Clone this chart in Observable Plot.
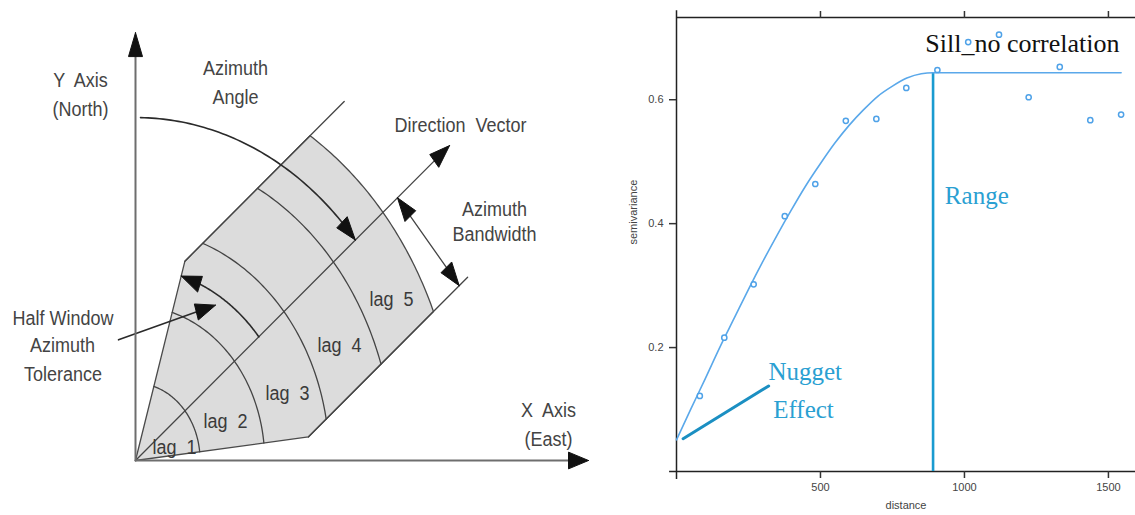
<!DOCTYPE html>
<html><head><meta charset="utf-8">
<script src="https://cdn.jsdelivr.net/npm/d3@7"></script>
<script src="https://cdn.jsdelivr.net/npm/@observablehq/plot@0.6"></script>
<style>
body{margin:0;background:#fff;width:1135px;height:515px;overflow:hidden;position:relative}
#left{position:absolute;left:0;top:0}
#right{position:absolute;left:600px;top:0}
</style></head><body>
<div id="left"></div><div id="right"></div>
<script>
// ---------- Left diagram: search parameters (diagram units) ----------
const azimuthDeg = 40;          // direction vector, degrees from East
const toleranceDeg = 33.5;      // half window azimuth tolerance
const bandwidth = 96;
const lagRadii = [64.6, 129.2, 193.8, 258.4, 323];
const lagNames = ["lag  1", "lag  2", "lag  3", "lag  4", "lag  5"];
const lagLabelU = [39, 90, 152, 204, 256];
const lagLabelV = [11, 33, 56.5, 96, 135];
const noteText = ["Y  Axis", "(North)", "Azimuth", "Angle", "Direction  Vector", "Azimuth", "Bandwidth",
                  "Half Window", "Azimuth", "Tolerance", "X  Axis", "(East)"];
const noteU = [-55, -55, 100, 100, 325, 359, 359, -72.5, -73, -72.5, 413, 413];
const noteV = [318, 294, 328.5, 304, 280, 210, 189, 119, 96, 72, 42, 17.6];
const axisTip = {x: 453, y: 358};
const directionLength = 410;
const bandLength = 353;
const azimuthArc = {radius: 287, startDeg: 89};
const toleranceArcRadius = 161;
const bandArrowAt = 342;
const pointerFrom = [-17, 101], pointerTo = [80, 130];

// ---------- Right chart: experimental variogram ----------
const distance = [81, 166, 268, 376, 482, 588, 694, 798, 906, 1013, 1120, 1223, 1331, 1437, 1544];
const semivariance = [0.122, 0.216, 0.302, 0.412, 0.464, 0.566, 0.569, 0.619, 0.648, 0.693, 0.705, 0.604, 0.653, 0.567, 0.576];
const modelDistance = [0, 50, 100, 150, 200, 250, 300, 350, 400, 450, 500, 550, 600, 650, 700, 750, 800, 850, 891, 1544];
const modelGamma = [0.051, 0.101, 0.150, 0.200, 0.247, 0.294, 0.339, 0.382, 0.423, 0.462, 0.497, 0.530, 0.559, 0.584, 0.606, 0.622, 0.635, 0.642, 0.6435, 0.6435];
const nugget = 0.051, sill = 0.6435, rangeDist = 891;
const xTicks = [500, 1000, 1500];
const yTicks = [0.2, 0.4, 0.6];
const xMax = 1594, yMax = 0.7327;

// ---------- geometry helpers ----------
const rad = Math.PI / 180;
const th = azimuthDeg * rad, tol = toleranceDeg * rad;
const dir = [Math.cos(th), Math.sin(th)];
const perp = [Math.sin(th), -Math.cos(th)];
const P = (r, a) => [r * Math.cos(a), r * Math.sin(a)];
const along = (s, p) => [s * dir[0] + p * perp[0], s * dir[1] + p * perp[1]];
const arc = (r, a0, a1, n = 60) => d3.range(n + 1).map(i => P(r, a0 + (a1 - a0) * i / n));
const unit = (a, b) => { const dx = b[0] - a[0], dy = b[1] - a[1], l = Math.hypot(dx, dy); return [dx / l, dy / l]; };
const back = (tip, d, L) => [tip[0] - L * d[0], tip[1] - L * d[1]];
function head(tip, d, L = 20, W = 7) {
  const q = [d[1], -d[0]], b = back(tip, d, L);
  return [tip, [b[0] + W * q[0], b[1] + W * q[1]], [b[0] - W * q[0], b[1] - W * q[1]], tip];
}
const rows = (pts, id) => pts.map(p => ({u: p[0], v: p[1], id}));

const R = lagRadii[4];
const tCorner = bandwidth / Math.sin(tol);
const aOuter = Math.asin(bandwidth / R);
const sector = [[0, 0], P(tCorner, th + tol), ...arc(R, th + aOuter, th - aOuter), P(tCorner, th - tol), [0, 0]];

const strokes = [];   // plain lines
const heads = [];     // filled arrowheads
strokes.push(...rows([P(tCorner, th + tol), along(bandLength, -bandwidth)], "bandU"));
strokes.push(...rows([P(tCorner, th - tol), along(bandLength, bandwidth)], "bandL"));
lagRadii.slice(0, 4).forEach((r, i) => {
  const a = Math.min(tol, Math.asin(Math.min(1, bandwidth / r)));
  strokes.push(...rows(arc(r, th - a, th + a), "lag" + i));
});
{
  const tip = along(directionLength, 0);
  strokes.push(...rows([[0, 0], back(tip, dir, 18)], "dir"));
  heads.push(...rows(head(tip, dir), "hdir"));
}
{
  const a = along(bandArrowAt, 0), b = along(bandArrowAt, bandwidth);
  const d = unit(a, b);
  strokes.push(...rows([back(b, d, 18), back(a, [-d[0], -d[1]], 18)], "bw"));
  heads.push(...rows(head(b, d), "hbw1"));
  heads.push(...rows(head(a, [-d[0], -d[1]]), "hbw2"));
}
const darkLines = [];
{
  const r = azimuthArc.radius, tip = P(r, th), base = P(r, th + 20 / r);
  darkLines.push(...rows(arc(r, azimuthArc.startDeg * rad, th + 18 / r), "az"));
  heads.push(...rows(head(tip, unit(base, tip)), "haz"));
}
{
  const r = toleranceArcRadius, tip = P(r, th + tol), base = P(r, th + tol - 20 / r);
  darkLines.push(...rows(arc(r, th, th + tol - 18 / r), "tol"));
  heads.push(...rows(head(tip, unit(base, tip)), "htol"));
}
{
  const d = unit(pointerFrom, pointerTo);
  darkLines.push(...rows([pointerFrom, back(pointerTo, d, 18)], "ptr"));
  heads.push(...rows(head(pointerTo, d), "hptr"));
}
const axisLines = [
  ...rows([[0, 0], [axisTip.x - 18, 0]], "ax"),
  ...rows([[0, 0], [0, axisTip.y - 18]], "ay")
];
heads.push(...rows(head([axisTip.x, 0], [1, 0]), "hax"));
heads.push(...rows(head([0, axisTip.y], [0, 1]), "hay"));

const notes = noteText.map((t, i) => ({t, u: noteU[i], v: noteV[i]}));
const lagLabels = lagNames.map((t, i) => ({t, u: lagLabelU[i], v: lagLabelV[i]}));

const stretch = 1.195;
const left = Plot.plot({
  width: 600, height: 515, margin: 0,
  x: {domain: [-135, 465], range: [0, 600], axis: null},
  y: {domain: [-55 / stretch, 460 / stretch], range: [515, 0], axis: null},
  style: {fontFamily: "'Liberation Sans', Arial, sans-serif", background: "white"},
  marks: [
    Plot.line(rows(sector, "sector"), {x: "u", y: "v", fill: "#dcdcdc", stroke: "#4a4a4a", strokeWidth: 1.3}),
    Plot.line(strokes, {x: "u", y: "v", z: "id", stroke: "#444", strokeWidth: 1.3}),
    Plot.line(darkLines, {x: "u", y: "v", z: "id", stroke: "#2a2a2a", strokeWidth: 1.6}),
    Plot.line(axisLines, {x: "u", y: "v", z: "id", stroke: "#6e6e6e", strokeWidth: 2}),
    Plot.line(heads, {x: "u", y: "v", z: "id", fill: "#111", stroke: "#111", strokeWidth: 1}),
    Plot.text(lagLabels, {x: "u", y: "v", text: "t", fontSize: 18, fill: "#3a3a3a"}),
    Plot.text(notes, {x: "u", y: "v", text: "t", fontSize: 18, fill: "#444"})
  ]
});
// the reference diagram is stretched vertically; stretch its lettering the same way
left.querySelectorAll("text").forEach(t => {
  const tr = t.getAttribute("transform");
  if (tr) t.setAttribute("transform", tr + " scale(1,1.14)");
  t.style.whiteSpace = "pre";
});
document.getElementById("left").append(left);

const points = distance.map((d, i) => ({d, g: semivariance[i]}));
const model = modelDistance.map((d, i) => ({d, g: modelGamma[i]}));
const right = Plot.plot({
  width: 535, height: 515,
  marginLeft: 76, marginRight: 0, marginTop: 17, marginBottom: 44,
  x: {domain: [0, xMax]},
  y: {domain: [0, yMax]},
  style: {fontFamily: "'Liberation Sans', Arial, sans-serif", fontSize: "11px", color: "#333", background: "white"},
  marks: [
    Plot.ruleY([yMax], {stroke: "#222", strokeWidth: 1.5}),
    Plot.ruleX([0], {y1: -0.013, y2: yMax + 0.011, stroke: "#222", strokeWidth: 1.5}),
    Plot.ruleY([0], {x1: -24, x2: xMax, stroke: "#222", strokeWidth: 1.5}),
    Plot.axisX({anchor: "top", ticks: xTicks, tickSize: 7, tickFormat: () => "", label: null, strokeWidth: 1.5}),
    Plot.axisX({anchor: "bottom", ticks: xTicks, tickSize: 7, tickPadding: 5, tickFormat: d => String(d), label: null, strokeWidth: 1.5, fill: "#444"}),
    Plot.axisY({anchor: "left", ticks: yTicks, tickSize: 7, tickPadding: 6, label: null, strokeWidth: 1.5, fill: "#444"}),
    Plot.text(["distance"], {frameAnchor: "bottom", dy: 37, text: d => d, fontSize: 11, fill: "#444"}),
    Plot.text(["semivariance"], {frameAnchor: "left", dx: -43, rotate: -90, text: d => d, fontSize: 11, fill: "#444"}),
    Plot.ruleX([rangeDist], {y1: 0, y2: sill, stroke: "#1a9bd0", strokeWidth: 2.6}),
    Plot.line(model, {x: "d", y: "g", stroke: "#5aa8ea", strokeWidth: 1.6, curve: "monotone-x"}),
    Plot.line([{d: 23, g: nugget + 0.002}, {d: 320, g: 0.138}], {x: "d", y: "g", stroke: "#1b8fc2", strokeWidth: 3, strokeLinecap: "round"}),
    Plot.text(["Sill_no correlation"], {x: [864], y: [0.677], text: d => d, textAnchor: "start", lineAnchor: "bottom", fontSize: 26, fontFamily: "'Liberation Serif', 'Times New Roman', serif", fill: "#111"}),
    Plot.text(["Range"], {x: [932], y: [0.431], text: d => d, textAnchor: "start", lineAnchor: "bottom", fontSize: 25, fontFamily: "'Liberation Serif', 'Times New Roman', serif", fill: "#2aa0d2"}),
    Plot.text(["Nugget", "Effect"], {x: [447, 441], y: [0.1473, 0.0871], text: d => d, textAnchor: "middle", lineAnchor: "bottom", fontSize: 25, fontFamily: "'Liberation Serif', 'Times New Roman', serif", fill: "#2aa0d2"}),
    Plot.dot(points, {x: "d", y: "g", r: 2.6, stroke: "#4fa2e8", strokeWidth: 1.5, fill: "white"})
  ]
});
document.getElementById("right").append(right);
</script>
</body></html>
